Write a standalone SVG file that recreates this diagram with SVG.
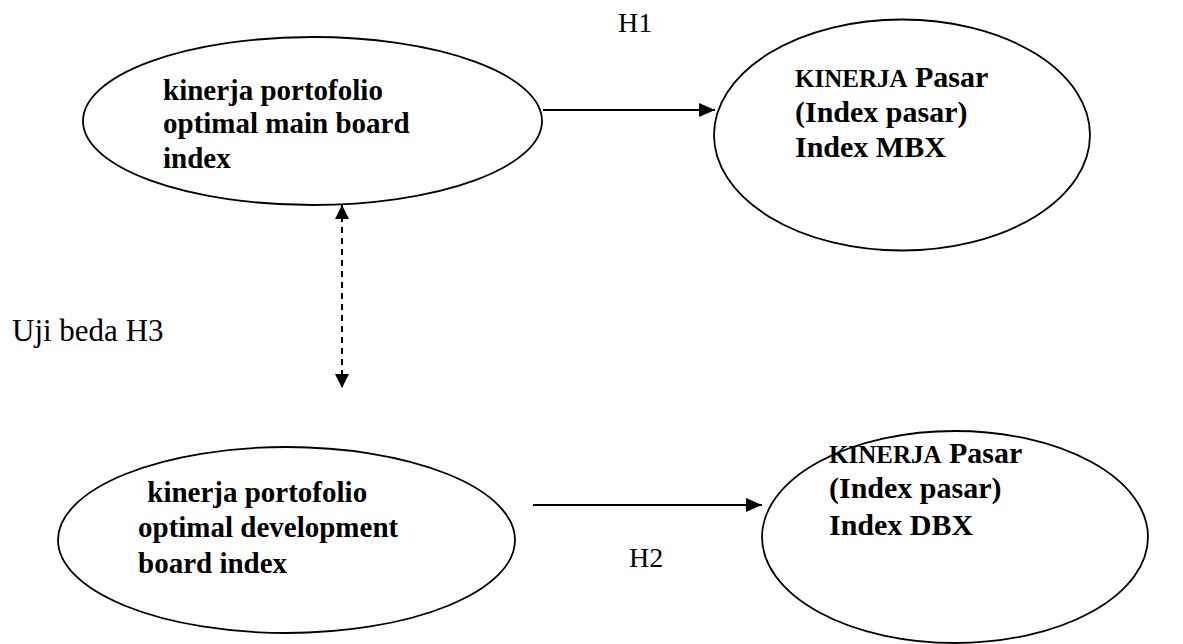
<svg xmlns="http://www.w3.org/2000/svg" width="1183" height="644" viewBox="0 0 1183 644">
<style>
.node{fill:#fff;stroke:#000;stroke-width:1.8}
.t{font-family:"Liberation Serif","Times New Roman",serif;font-weight:bold;fill:#000}
.lbl{font-family:"Liberation Serif","Times New Roman",serif;fill:#000;font-size:28px}
.c{stroke:#000;stroke-width:2;fill:none}
.sm{font-size:25px}
</style>
<defs>
<marker id="ah" viewBox="0 0 16 14" refX="16" refY="7" markerWidth="16" markerHeight="14" markerUnits="userSpaceOnUse" orient="auto">
<path d="M0,0 L16,7 L0,14 Z" fill="#000"/>
</marker>
<marker id="ah2" viewBox="0 0 14 15" refX="14" refY="7.5" markerWidth="14" markerHeight="15" markerUnits="userSpaceOnUse" orient="auto-start-reverse">
<path d="M0,0.5 L14,7.5 L0,14.5 Z" fill="#000"/>
</marker>
</defs>
<rect width="1183" height="644" fill="#fff"/>
<g id="n1">
<ellipse class="node" cx="312.5" cy="121" rx="229.5" ry="84"/>
<text class="t" font-size="29" x="163" y="100">kinerja portofolio</text>
<text class="t" font-size="29" x="163" y="133">optimal main board</text>
<text class="t" font-size="29" x="163" y="168">index</text>
</g>
<g id="n2">
<ellipse class="node" cx="902" cy="135" rx="188" ry="115.5"/>
<text class="t" font-size="30" x="795" y="87"><tspan class="sm">KINERJA</tspan> Pasar</text>
<text class="t" font-size="30" x="795" y="122">(Index pasar)</text>
<text class="t" font-size="30" x="795" y="157">Index MBX</text>
</g>
<g id="n3">
<ellipse class="node" cx="286.5" cy="540" rx="228.5" ry="93"/>
<text class="t" font-size="29" x="140" y="502" xml:space="preserve"> kinerja portofolio</text>
<text class="t" font-size="29" x="138" y="537">optimal development</text>
<text class="t" font-size="29" x="138" y="573">board index</text>
</g>
<g id="n4">
<ellipse class="node" cx="955" cy="537" rx="193" ry="106"/>
<text class="t" font-size="30" x="829" y="463"><tspan class="sm">KINERJA</tspan> Pasar</text>
<text class="t" font-size="30" x="829" y="498">(Index pasar)</text>
<text class="t" font-size="30" x="829" y="535">Index DBX</text>
</g>
<g id="connectors">
<line class="c" x1="543" y1="110" x2="715" y2="110" marker-end="url(#ah)"/>
<line class="c" x1="533" y1="505" x2="762" y2="505" marker-end="url(#ah)"/>
<line class="c" x1="342" y1="205" x2="342" y2="388" stroke-dasharray="6,5" marker-start="url(#ah2)" marker-end="url(#ah2)"/>
</g>
<g id="labels">
<text class="lbl" x="618" y="32">H1</text>
<text class="lbl" x="629" y="567">H2</text>
<text class="lbl" x="12" y="341" style="font-size:31px">Uji beda H3</text>
</g>
</svg>
